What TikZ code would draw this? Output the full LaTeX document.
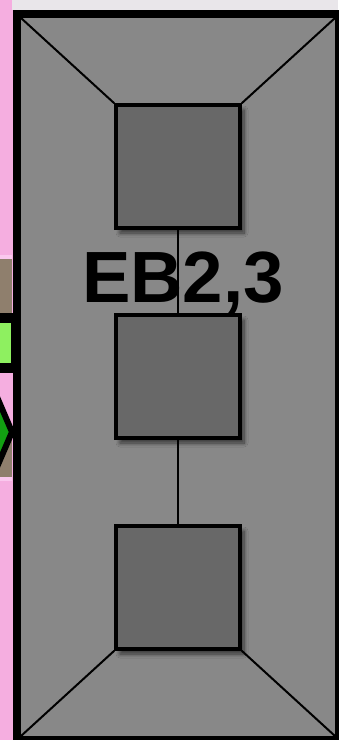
\documentclass[tikz,border=0pt]{standalone}
\usepackage{fontspec}
\setmainfont{Liberation Sans}
\usetikzlibrary{shadows.blur}
\definecolor{pinkbg}{HTML}{F5AEE0}
\definecolor{pinklight}{HTML}{FAC8EE}
\definecolor{brownbg}{HTML}{8F7F6D}
\definecolor{greenbox}{HTML}{8EF060}
\definecolor{greendia}{HTML}{12A012}
\definecolor{topstrip}{HTML}{E9E6EA}
\definecolor{outergray}{HTML}{888888}
\definecolor{innergray}{HTML}{686868}
\tikzset{
  x=1pt, y=-1pt,
  outerbox/.style={draw=black, line width=8pt, fill=outergray},
  innerbox/.style={draw=black, line width=3.5pt, fill=innergray, minimum width=124pt, minimum height=123pt, inner sep=0pt,
    blur shadow={shadow xshift=4pt, shadow yshift=-5pt, shadow blur steps=8, shadow blur radius=4pt, shadow opacity=60}},
  diag/.style={draw=black, line width=2pt},
  link/.style={draw=black, line width=1.5pt},
  label/.style={font=\fontsize{72.6}{80}\selectfont\bfseries, inner sep=0pt, anchor=base}
}
\begin{document}
\begin{tikzpicture}
\useasboundingbox (0,0) rectangle (338,740);
% left strip (neighbouring diagram, clipped)
\fill[pinkbg] (0,0) rectangle (14,740);
\fill[topstrip] (12,0) rectangle (338,10);
\fill[pinklight] (0,255) rectangle (12,259);
\fill[brownbg] (0,259) rectangle (12,313);
\draw[black, line width=10pt, fill=greenbox] (-10,317.5) rectangle (16,368);
\fill[brownbg] (0,440) rectangle (12,477);
\fill[pinklight] (0,477) rectangle (12,481);
\draw[black, line width=6pt, fill=greendia, line join=miter] (-6,390) -- (12,432) -- (-6,474) -- (-30,432) -- cycle;
% outer box
\draw[outerbox] (17,14) rectangle (339,740);
\coordinate (tl) at (21,18);
\coordinate (tr) at (335,18);
\coordinate (bl) at (21,736);
\coordinate (br) at (335,736);
% inner boxes
\node[innerbox] (b1) at (178,166.5) {};
\node[innerbox] (b2) at (178,376.5) {};
\node[innerbox] (b3) at (178,587.5) {};
% diagonals
\draw[diag] (tl) -- (b1.north west);
\draw[diag] (tr) -- (b1.north east);
\draw[diag] (bl) -- (b3.south west);
\draw[diag] (br) -- (b3.south east);
% label
\node[label] (lbl) at (183,302) {EB2,3};
% connectors
\draw[link] (b1.south) -- (b2.north);
\draw[link] (b2.south) -- (b3.north);
\end{tikzpicture}
\end{document}
